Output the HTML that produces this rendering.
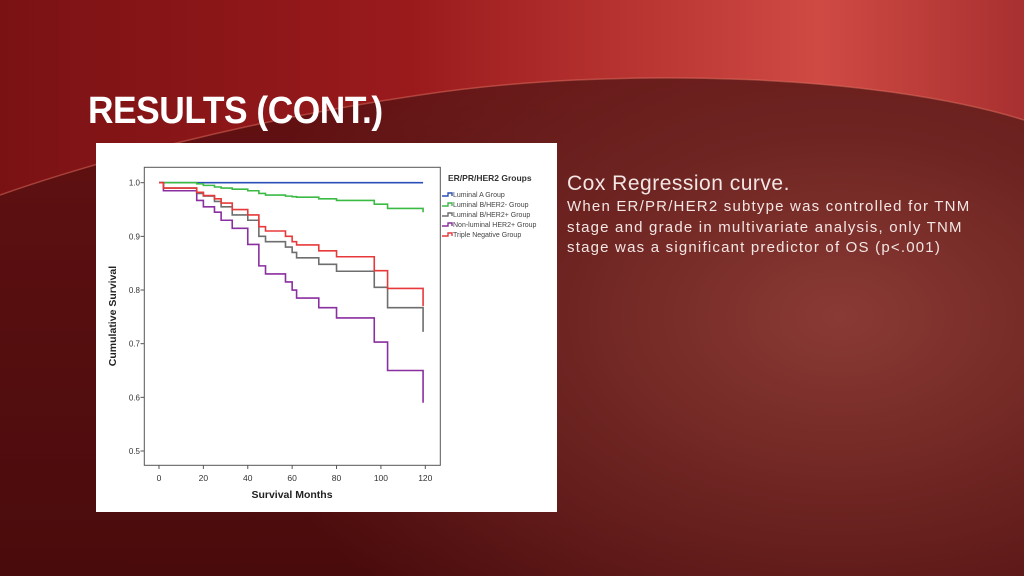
<!DOCTYPE html>
<html><head><meta charset="utf-8"><style>
html,body{margin:0;padding:0;}
body{width:1024px;height:576px;overflow:hidden;position:relative;font-family:"Liberation Sans",sans-serif;
background:radial-gradient(ellipse 60% 70% at 82% 55%, #8a3a34 0%, #6e2522 45%, rgba(80,15,15,0) 100%),
linear-gradient(180deg,#6a1214 0%,#5a0f10 40%,#4a0b0c 100%);}
#band{position:absolute;left:0;top:0;width:1024px;height:200px;}
#title{position:absolute;left:88px;top:90px;color:#fff;font-weight:bold;font-size:38px;letter-spacing:-0.5px;transform:scaleX(0.93);transform-origin:left top;white-space:nowrap;}
#txt{position:absolute;left:567px;top:170px;color:#f3e6e4;white-space:nowrap;}
#txt .h{font-size:21px;line-height:27px;letter-spacing:0.5px;}
#txt .b{font-size:15px;line-height:20.5px;letter-spacing:1.2px;}
#chart{position:absolute;left:96px;top:143px;}
</style></head><body>
<svg id="band" width="1024" height="200">
<defs><linearGradient id="g1" x1="0" x2="1" y1="0" y2="0"><stop offset="0" stop-color="#7a1214"/><stop offset="0.4" stop-color="#9a1a1c"/><stop offset="0.8" stop-color="#d04a44"/><stop offset="1" stop-color="#a83030"/></linearGradient></defs>
<path d="M0,0 H1024 V120 C880,75 620,65 420,95 C250,120 100,160 0,195 Z" fill="url(#g1)"/>
<path d="M0,195 C100,160 250,120 420,95 C620,65 880,75 1024,120" fill="none" stroke="#e07060" stroke-opacity="0.5" stroke-width="1.5"/>
</svg>
<div id="title">RESULTS (CONT.)</div>
<div id="txt">
<div class="h">Cox Regression curve.</div>
<div class="b">When ER/PR/HER2 subtype was controlled for TNM<br>stage and grade in multivariate analysis, only TNM<br>stage was a significant predictor of OS (p&lt;.001)</div>
</div>
<svg id="chart" width="461" height="369" font-family="Liberation Sans, sans-serif"></svg>
<script>
const months=[0,2,17,20,25,28,33,40,45,48,57,60,62,72,80,97,103,119];
const groups=["Luminal A Group","Luminal B/HER2- Group","Luminal B/HER2+ Group","Non-luminal HER2+ Group","Triple Negative Group"];
const colors=["#2b4fb8","#3cba46","#6e6e6e","#8a2fa0","#e8393a"];
const lumA=[1,1,1,1,1,1,1,1,1,1,1,1,1,1,1,1,1,1];
const lumBneg=[1,1,0.998,0.995,0.992,0.99,0.988,0.985,0.98,0.977,0.975,0.974,0.973,0.97,0.967,0.96,0.952,0.945];
const lumBpos=[1,0.99,0.98,0.975,0.965,0.955,0.94,0.93,0.9,0.89,0.88,0.87,0.86,0.848,0.835,0.805,0.767,0.722];
const nonLum=[1,0.985,0.967,0.955,0.945,0.93,0.915,0.885,0.845,0.83,0.815,0.8,0.785,0.767,0.748,0.703,0.65,0.59];
const tripleNeg=[1,0.99,0.982,0.976,0.97,0.962,0.95,0.94,0.918,0.91,0.9,0.89,0.884,0.873,0.862,0.836,0.803,0.77];
const series=[lumA,lumBneg,lumBpos,nonLum,tripleNeg];
const xTicks=[0,20,40,60,80,100,120];
const yTicks=[0.5,0.6,0.7,0.8,0.9,1.0];
const NS="http://www.w3.org/2000/svg";
const svg=document.getElementById('chart');
const X=m=>63+m*(329.3-63)/120;
const Y=v=>39.7+(1-v)*(308-39.7)/0.5;
function mk(t,a){const e=document.createElementNS(NS,t);for(const k in a)e.setAttribute(k,a[k]);svg.appendChild(e);return e;}
let bg=mk('rect',{x:0,y:0,width:461,height:369,fill:'#fff'});


let fr=mk('rect',{x:48.3,y:24.3,width:296,height:298,fill:'none',stroke:'#555','stroke-width':1});


xTicks.forEach(t=>{
 let l=mk('line',{x1:X(t),x2:X(t),y1:322.3,y2:326,stroke:'#555'});
 
 
 let tx=mk('text',{x:X(t),y:338,'font-size':8.5,'text-anchor':'middle',fill:'#333'});tx.textContent=t;
 
 
});
yTicks.forEach(t=>{
 let l=mk('line',{x1:44.5,x2:48.3,y1:Y(t),y2:Y(t),stroke:'#555'});
 
 
 let tx=mk('text',{x:44,y:Y(t)+3,'font-size':8,'text-anchor':'end',fill:'#333'});tx.textContent=t.toFixed(1);
 
 
});
let xt=mk('text',{x:196,y:355,'font-size':10.5,'font-weight':'bold','text-anchor':'middle',fill:'#222'});xt.textContent='Survival Months';


let yt=mk('text',{x:0,y:0,'font-size':10.5,'font-weight':'bold','text-anchor':'middle',fill:'#222',transform:'translate(20,173) rotate(-90)'});yt.textContent='Cumulative Survival';


series.forEach((s,i)=>{
 let d='M'+X(months[0])+','+Y(s[0]);
 for(let k=1;k<months.length;k++){d+=' H'+X(months[k])+' V'+Y(s[k]);}
 let p=mk('path',{d:d,fill:'none',stroke:colors[i],'stroke-width':1.6});
 
 
});
let lt=mk('text',{x:352,y:38,'font-size':8.5,'font-weight':'bold',fill:'#333'});lt.textContent='ER/PR/HER2 Groups';


groups.forEach((g,i)=>{
 const y=53+i*10;
 let p=mk('path',{d:`M346,${y} h6 v-3 h4 v3`,fill:'none',stroke:colors[i],'stroke-width':1.4});
 
 
 let t=mk('text',{x:357,y:y+1,'font-size':7,fill:'#444'});t.textContent=g;
 
 
});
</script>
</body></html>
